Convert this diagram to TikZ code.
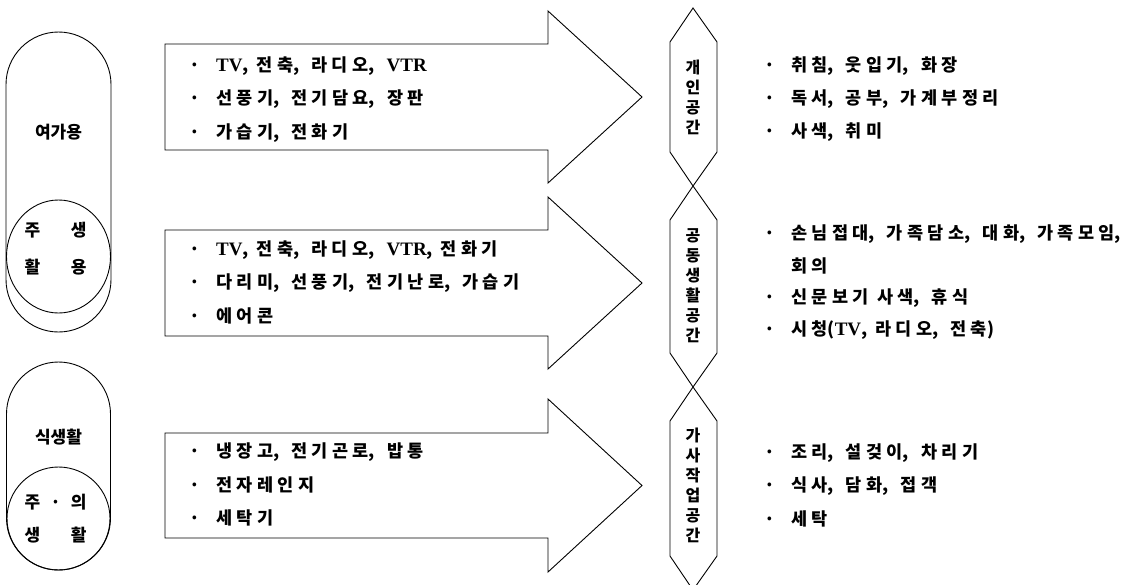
\documentclass[tikz,border=0pt]{standalone}
\usepackage{fontspec}
\setmainfont{Noto Sans CJK KR}[LetterSpace=25]
\newfontfamily\knorm{Noto Sans CJK KR}
\newfontfamily\lat{Liberation Serif}
\newcommand\kfont{\fontsize{17.5pt}{20pt}\selectfont\bfseries}
\newcommand\lblfont{\knorm\fontsize{17pt}{20pt}\selectfont\bfseries}
\newcommand\vfont{\knorm\fontsize{16pt}{20pt}\selectfont\bfseries}
\newcommand\en[1]{{\lat\fontsize{19pt}{20pt}\selectfont\bfseries #1}}
\newcommand\bul{\makebox[0pt]{·}\hspace*{21pt}}
\newcommand\sep{\kern0pt,\hspace*{12pt}}
\newcommand\lsk{\kern0pt}
\tikzset{
  shapeline/.style={draw=black, line width=0.9pt, line join=miter},
  lbl/.style={inner sep=0pt, font=\lblfont},
  item/.style={inner sep=0pt, anchor=west, font=\kfont},
  vtext/.style={inner sep=0pt, align=center, font=\vfont},
}
\begin{document}
\begin{tikzpicture}[x=1pt, y=-1pt]
\useasboundingbox (0,0) rectangle (1139,584);
\fill[white] (0,0) rectangle (1139,584);

% left groups
\draw[shapeline, rounded corners=52.5pt] (6,32) rectangle (111,332);
\draw[shapeline] (58.5,256.5) ellipse [x radius=52pt, y radius=56.5pt];
\draw[shapeline, rounded corners=52pt] (6.5,362) rectangle (110.5,570);
\draw[shapeline] (58.5,518.5) circle [radius=51.5pt];

\node[lbl] (yeoga) at (58.5,132) {여가용};
\node[lbl] (jusaeng) at (55.5,230) {\makebox[62pt]{주\hfill 생}};
\node[lbl] (hwalyong) at (55.5,267) {\makebox[62pt]{활\hfill 용}};
\node[lbl] (siksaeng) at (58.5,437) {식생활};
\node[lbl] (juui) at (55.5,502) {\makebox[62pt]{주\hfill·\hfill 의}};
\node[lbl] (saenghwal) at (55.5,535) {\makebox[62pt]{생\hfill 활}};

% block arrows
\draw[shapeline] (165,44) -- (548,44) -- (548,11) -- (642,97) -- (548,183) -- (548,150) -- (165,150) -- cycle;
\draw[shapeline] (165,230) -- (548,230) -- (548,197) -- (642,283) -- (548,369) -- (548,336) -- (165,336) -- cycle;
\draw[shapeline] (165,433) -- (548,433) -- (548,399) -- (642,485.5) -- (548,572) -- (548,538) -- (165,538) -- cycle;

\node[item] (a1) at (195,66) {\bul\en{TV},\hspace*{8pt}전축\sep 라디오\sep \en{VTR}};
\node[item] (a2) at (195,99.5) {\bul 선풍기\sep 전기담요\sep 장판};
\node[item] (a3) at (195,133) {\bul 가습기\sep 전화기};
\node[item] (b1) at (195,250) {\bul\en{TV},\hspace*{8pt}전축\sep 라디오\sep \en{VTR},\hspace*{8pt}전화기};
\node[item] (b2) at (195,283) {\bul 다리미\sep 선풍기\sep 전기난로\sep 가습기};
\node[item] (b3) at (195,316) {\bul 에어콘};
\node[item] (c1) at (195,452) {\bul 냉장고\sep 전기곤로\sep 밥통};
\node[item] (c2) at (195,485) {\bul 전자레인지};
\node[item] (c3) at (195,518) {\bul 세탁기};

% hexagons
\draw[shapeline] (693,8) -- (717,42) -- (717,152) -- (693,186) -- (670,152) -- (670,42) -- cycle;
\draw[shapeline] (693,186) -- (717,220) -- (717,353) -- (693,387) -- (670,353) -- (670,220) -- cycle;
\draw[shapeline] (693,387) -- (717,421) -- (717,556) -- (693,590) -- (670,556) -- (670,421) -- cycle;

\node[vtext] (h1) at (693,97) {개\\인\\공\\간};
\node[vtext] (h2) at (693,286) {공\\동\\생\\활\\공\\간};
\node[vtext] (h3) at (693,485) {가\\사\\작\\업\\공\\간};

% right lists
\node[item] (d1) at (770,66) {\bul 취침\sep 웃입기\sep 화장};
\node[item] (d2) at (770,99) {\bul 독서\sep 공부\sep 가계부정리};
\node[item] (d3) at (770,132) {\bul 사색\sep 취미};
\node[item] (e1) at (770,234) {\bul 손님접대\sep 가족담소\sep 대화\sep 가족모임\lsk,};
\node[item] (e2) at (791,266) {회의};
\node[item] (e3) at (770,298) {\bul 신문보기 사색\sep 휴식};
\node[item] (e4) at (770,330) {\bul 시청\lsk(\en{TV},\hspace*{8pt}라디오\sep 전축\lsk)};
\node[item] (f1) at (770,453) {\bul 조리\sep 설겆이\sep 차리기};
\node[item] (f2) at (770,486) {\bul 식사\sep 담화\sep 접객};
\node[item] (f3) at (770,519) {\bul 세탁};
\end{tikzpicture}
\end{document}
